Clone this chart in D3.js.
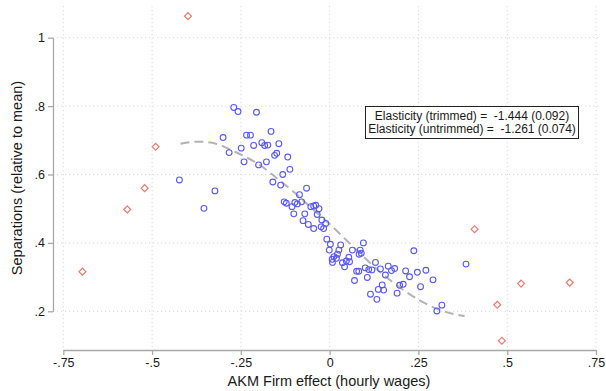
<!DOCTYPE html>
<html>
<head>
<meta charset="utf-8">
<script src="https://cdn.jsdelivr.net/npm/d3@7"></script>
<style>
  body { margin: 0; background: #fff; }
  svg text { font-family: "Liberation Sans", Arial, Helvetica, sans-serif; fill: #1a1a1a; }
</style>
</head>
<body>
<svg id="chart" width="606" height="391"></svg>
<script>
// Trimmed sample (blue hollow circles)
const trimmedX = [-0.423,-0.354,-0.323,-0.300,-0.283,-0.270,-0.258,-0.249,-0.241,-0.234,-0.223,-0.214,-0.206,-0.200,-0.191,-0.183,-0.174,-0.178,-0.165,-0.160,-0.155,-0.149,-0.143,-0.138,-0.132,-0.128,-0.122,-0.118,-0.112,-0.106,-0.101,-0.098,-0.091,-0.085,-0.079,-0.075,-0.070,-0.065,-0.060,-0.053,-0.045,-0.039,-0.045,-0.035,-0.030,-0.024,-0.022,-0.017,-0.011,-0.008,0.002,0.031,-0.001,0.026,0.022,0.012,0.007,0.019,0.008,0.064,0.086,0.095,0.083,0.054,0.047,0.036,0.056,0.042,0.100,0.110,0.119,0.076,0.082,0.106,0.070,0.115,0.133,0.137,0.129,0.143,0.165,0.174,0.183,0.157,0.152,0.148,0.190,0.197,0.207,0.214,0.225,0.237,0.247,0.256,0.271,0.291,0.302,0.316,0.384,0.089];
const trimmedY = [0.584,0.501,0.552,0.708,0.664,0.796,0.784,0.677,0.637,0.715,0.715,0.685,0.782,0.628,0.693,0.685,0.686,0.637,0.726,0.578,0.656,0.662,0.690,0.569,0.600,0.520,0.516,0.651,0.615,0.506,0.485,0.518,0.514,0.541,0.520,0.465,0.485,0.560,0.454,0.506,0.508,0.510,0.442,0.483,0.500,0.447,0.467,0.442,0.457,0.411,0.396,0.394,0.379,0.379,0.367,0.360,0.352,0.355,0.343,0.379,0.379,0.400,0.367,0.358,0.347,0.342,0.345,0.330,0.327,0.322,0.321,0.317,0.317,0.299,0.290,0.250,0.235,0.264,0.343,0.324,0.332,0.319,0.325,0.306,0.262,0.277,0.253,0.276,0.279,0.318,0.301,0.377,0.314,0.272,0.320,0.292,0.201,0.218,0.338,0.370];

// Trimmed-out observations (red hollow diamonds)
const outlierX = [-0.696,-0.570,-0.521,-0.490,-0.399,0.408,0.472,0.485,0.539,0.676];
const outlierY = [0.316,0.498,0.560,0.681,1.063,0.440,0.219,0.114,0.281,0.284];

// Fitted curve (gray dashed)
const fitX = [-0.42,-0.37,-0.32,-0.28,-0.24,-0.20,-0.15,-0.10,-0.05,0.00,0.05,0.10,0.15,0.20,0.25,0.30,0.35,0.38];
const fitY = [0.690,0.696,0.690,0.673,0.653,0.630,0.590,0.548,0.501,0.455,0.405,0.355,0.308,0.268,0.234,0.208,0.192,0.186];

// Axis ticks
const xTicks = [-0.75,-0.5,-0.25,0,0.25,0.5,0.75];
const xTickLabels = ["-.75","-.5","-.25","0",".25",".5",".75"];
const yTicks = [0.2,0.4,0.6,0.8,1];
const yTickLabels = [".2",".4",".6",".8","1"];

const xTitle = "AKM Firm effect (hourly wages)";
const yTitle = "Separations (relative to mean)";
const legendLines = ["Elasticity (trimmed) =  -1.444 (0.092)", "Elasticity (untrimmed) =  -1.261 (0.074)"];

const svg = d3.select("#chart");
const x = d3.scaleLinear().domain([-0.75, 0.75]).range([63.3, 596]);
const y = d3.scaleLinear().domain([0.2, 1]).range([311.3, 37.7]);

const plotTop = 6, plotBottom = 348, plotLeft = 53, plotRight = 601;
const gridColor = "#d9d9d9";
const axisColor = "#a8a8a8";

// gridlines
svg.append("g").selectAll("line").data(xTicks).join("line")
  .attr("x1", d => x(d)).attr("x2", d => x(d))
  .attr("y1", plotTop).attr("y2", plotBottom)
  .attr("stroke", gridColor).attr("stroke-width", 1).attr("stroke-dasharray", "1.2,2.8");
svg.append("g").selectAll("line").data(yTicks).join("line")
  .attr("x1", plotLeft).attr("x2", plotRight)
  .attr("y1", d => y(d)).attr("y2", d => y(d))
  .attr("stroke", gridColor).attr("stroke-width", 1).attr("stroke-dasharray", "1.2,2.8");

// axes
const xAxis = d3.axisBottom(x).tickValues(xTicks).tickFormat((d, i) => xTickLabels[i]).tickSize(5).tickSizeOuter(0).tickPadding(3);
const gx = svg.append("g").attr("transform", "translate(0,350)").call(xAxis);
const yAxis = d3.axisLeft(y).tickValues(yTicks).tickFormat((d, i) => yTickLabels[i]).tickSize(5).tickSizeOuter(0).tickPadding(3);
const gy = svg.append("g").attr("transform", "translate(53,0)").call(yAxis);
[gx, gy].forEach(g => {
  g.select(".domain").attr("stroke", axisColor).attr("stroke-width", 1.3);
  g.selectAll(".tick line").attr("stroke", axisColor).attr("stroke-width", 1.3);
  g.selectAll(".tick text").attr("font-size", 12.5).attr("fill", "#1a1a1a")
    .attr("font-family", "'Liberation Sans', Arial, sans-serif");
});

// fitted curve
const line = d3.line().x(d => x(d[0])).y(d => y(d[1])).curve(d3.curveMonotoneX);
svg.append("path").datum(fitX.map((v, i) => [v, fitY[i]]))
  .attr("d", line).attr("fill", "none")
  .attr("stroke", "#b3b3b3").attr("stroke-width", 2).attr("stroke-dasharray", "9,5");

// trimmed points
svg.append("g").selectAll("circle").data(trimmedX.map((v, i) => [v, trimmedY[i]])).join("circle")
  .attr("cx", d => x(d[0])).attr("cy", d => y(d[1])).attr("r", 2.9)
  .attr("fill", "none").attr("stroke", "#5a5af2").attr("stroke-width", 1.1);

// outliers (hollow diamonds)
svg.append("g").selectAll("path").data(outlierX.map((v, i) => [v, outlierY[i]])).join("path")
  .attr("transform", d => `translate(${x(d[0])},${y(d[1])}) rotate(45)`)
  .attr("d", d3.symbol().type(d3.symbolSquare).size(24))
  .attr("fill", "none").attr("stroke", "#ea7a72").attr("stroke-width", 1.2);

// legend box
const lg = svg.append("g");
lg.append("rect").attr("x", 365.5).attr("y", 106.5).attr("width", 213).attr("height", 32)
  .attr("fill", "#fff").attr("stroke", "#222").attr("stroke-width", 1);
lg.selectAll("text").data(legendLines).join("text")
  .attr("x", 472).attr("y", (d, i) => 120 + i * 12.5)
  .attr("text-anchor", "middle").attr("font-size", 12).style("white-space", "pre")
  .text(d => d);

// axis titles
svg.append("text").attr("x", 329).attr("y", 386).attr("text-anchor", "middle")
  .attr("font-size", 14.5).text(xTitle);
svg.append("text").attr("transform", "translate(22,178) rotate(-90)").attr("text-anchor", "middle")
  .attr("font-size", 14.5).text(yTitle);
</script>
</body>
</html>
